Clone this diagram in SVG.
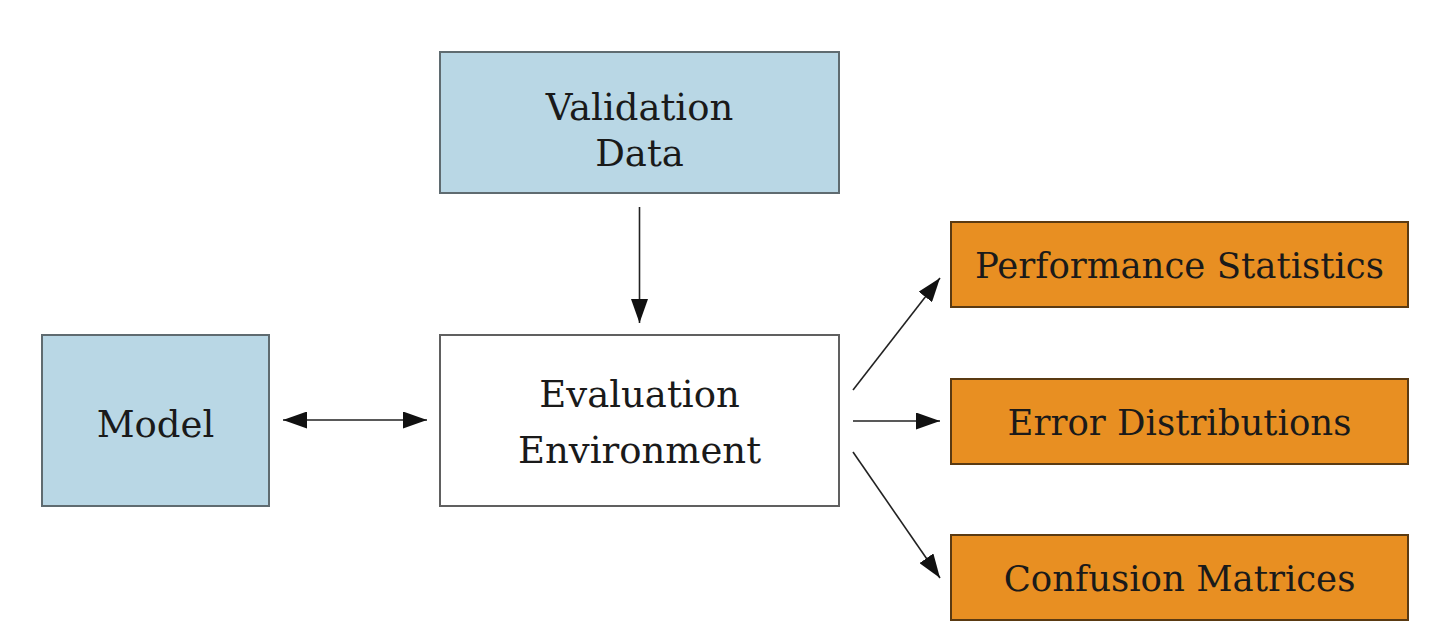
<svg xmlns="http://www.w3.org/2000/svg" width="1448" height="644" viewBox="0 0 1448 644">
<defs>
<marker id="ahb" viewBox="0 0 24 17" refX="24" refY="8.5" markerWidth="24" markerHeight="17" markerUnits="userSpaceOnUse" orient="auto-start-reverse">
<path d="M0,0 L24,8.5 L0,17 z" fill="#111"/>
</marker>
</defs>
<style>
.blue{fill:#b9d7e5;stroke:#5f6b70;stroke-width:2}
.white{fill:#ffffff;stroke:#606060;stroke-width:2}
.orange{fill:#e88f22;stroke:#5a3a12;stroke-width:2}
.lbl{font-family:"DejaVu Serif","Liberation Serif",serif;font-size:37px;fill:#1a1a1a;text-anchor:middle}
.sm{font-size:35.5px}
.edge{stroke:#222;stroke-width:1.6;fill:none;marker-end:url(#ahb)}
</style>
<rect width="1448" height="644" fill="#ffffff"/>
<g id="validation-data">
<rect class="blue" x="440" y="52" width="399" height="141"/>
<text class="lbl" x="639.5" y="120">Validation</text>
<text class="lbl" x="639.5" y="166">Data</text>
</g>
<g id="model">
<rect class="blue" x="42" y="335" width="227" height="171"/>
<text class="lbl" x="155.5" y="437">Model</text>
</g>
<g id="evaluation-environment">
<rect class="white" x="440" y="335" width="399" height="171"/>
<text class="lbl" x="639.5" y="407">Evaluation</text>
<text class="lbl" x="639.5" y="463">Environment</text>
</g>
<g id="performance-statistics">
<rect class="orange" x="951" y="222" width="457" height="85"/>
<text class="lbl sm" x="1179.5" y="278">Performance Statistics</text>
</g>
<g id="error-distributions">
<rect class="orange" x="951" y="379" width="457" height="85"/>
<text class="lbl sm" x="1179.5" y="435">Error Distributions</text>
</g>
<g id="confusion-matrices">
<rect class="orange" x="951" y="535" width="457" height="85"/>
<text class="lbl sm" x="1179.5" y="591">Confusion Matrices</text>
</g>
<g id="connectors">
<line class="edge" x1="639.5" y1="207" x2="639.5" y2="323"/>
<line class="edge" x1="283" y1="420" x2="427" y2="420" marker-start="url(#ahb)"/>
<line class="edge" x1="853" y1="390" x2="940" y2="278"/>
<line class="edge" x1="853" y1="421" x2="940" y2="421"/>
<line class="edge" x1="853" y1="452" x2="940" y2="578"/>
</g>
</svg>
